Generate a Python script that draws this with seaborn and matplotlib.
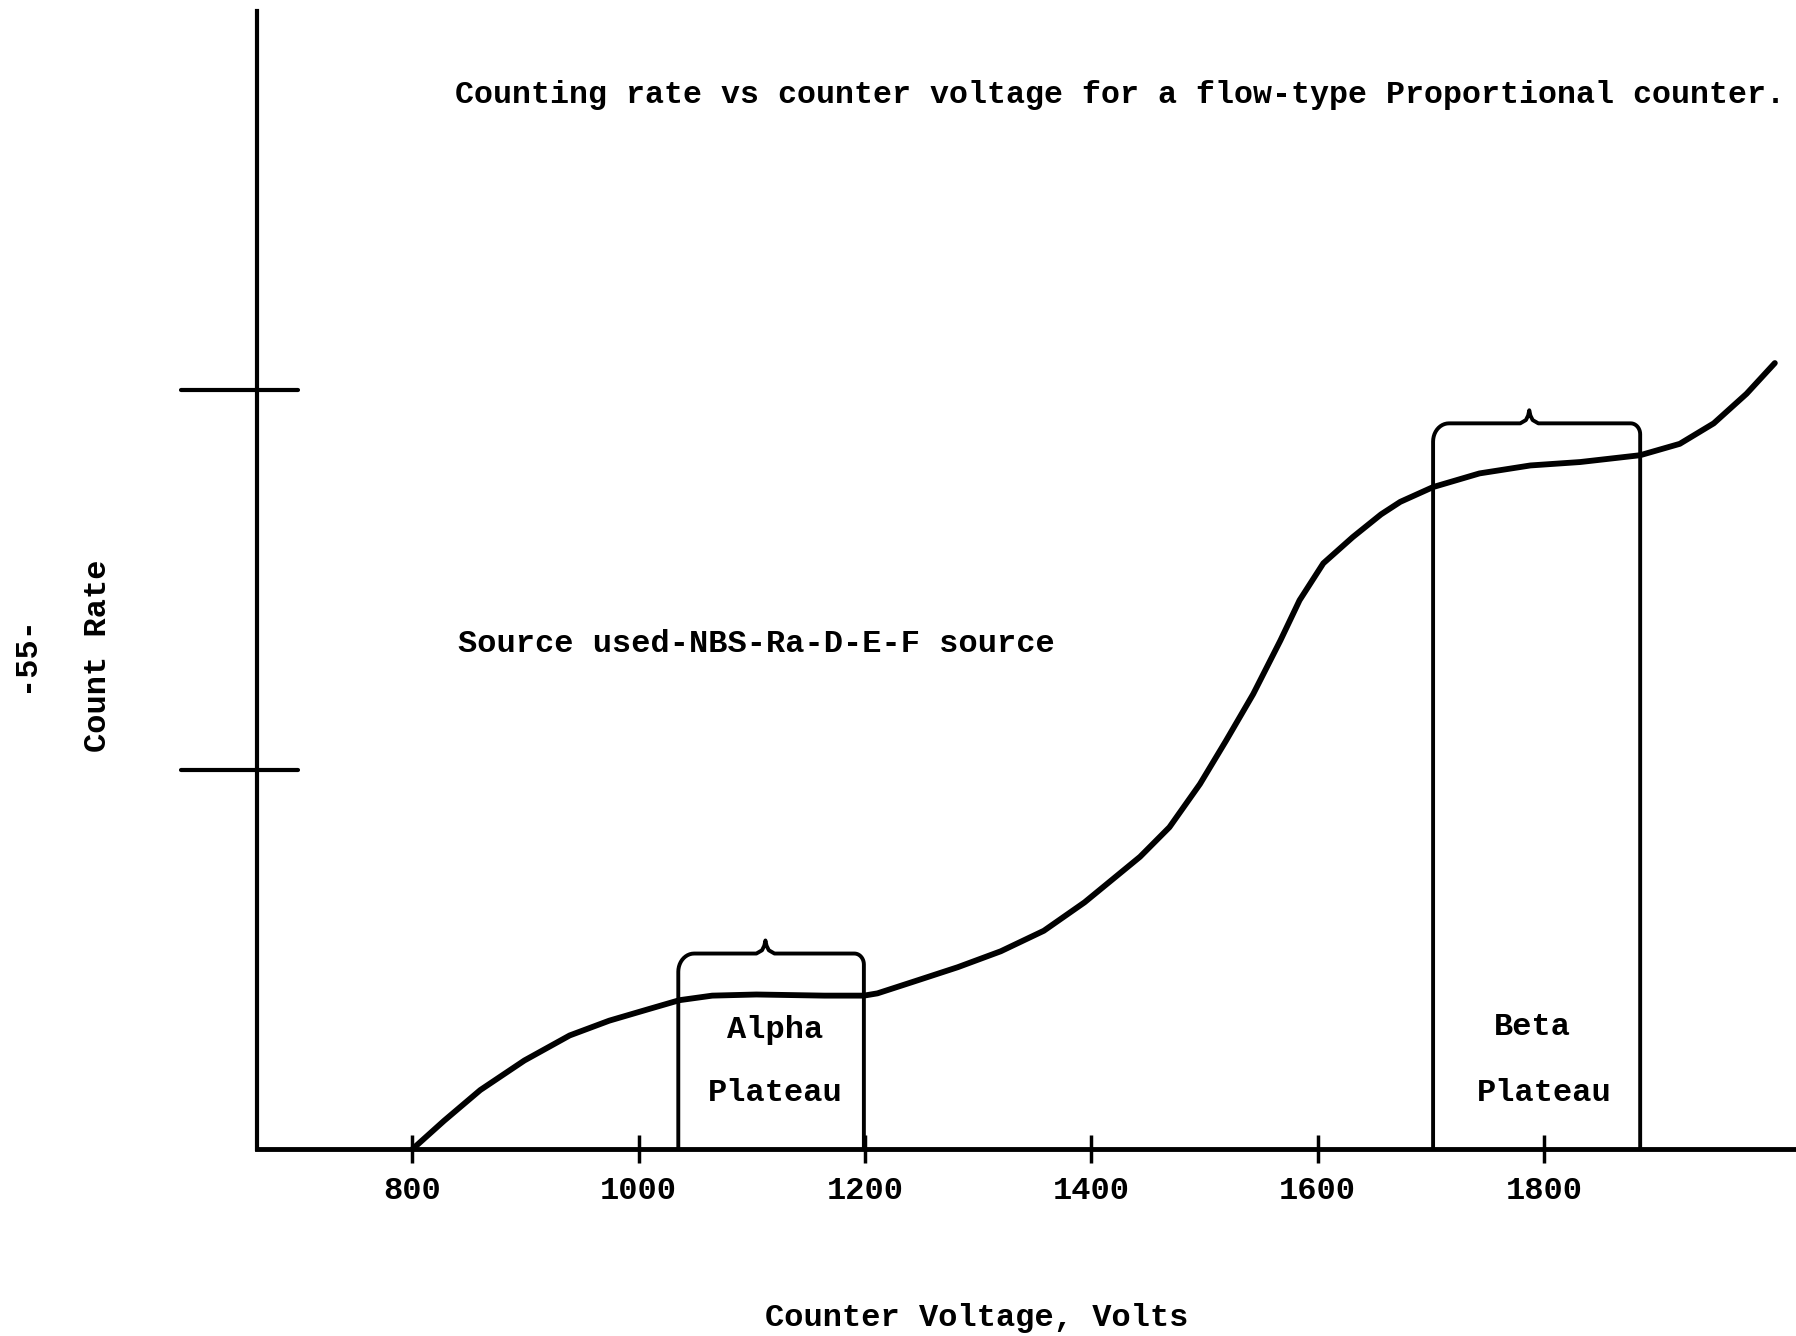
import numpy as np
import pandas as pd
import seaborn as sns
from matplotlib import pyplot as plt

# Curve (volts, relative count rate)
voltage = [800, 828, 860, 899, 939, 974, 1010, 1036, 1065, 1104, 1164, 1199,
           1211, 1242, 1282, 1320, 1358, 1394, 1443, 1469, 1496, 1519, 1543,
           1567, 1584, 1605, 1631, 1656, 1673, 1702, 1743, 1788, 1832, 1885,
           1920, 1950, 1979, 2004]
count_rate = [0.0, 2.5, 5.2, 7.8, 10.0, 11.3, 12.35, 13.1, 13.5, 13.6, 13.5, 13.5,
              13.7, 14.7, 16.0, 17.4, 19.2, 21.7, 25.7, 28.3, 32.1, 35.9, 40.0,
              44.7, 48.25, 51.5, 53.8, 55.8, 56.9, 58.2, 59.4, 60.1, 60.4, 61.0,
              62.0, 63.8, 66.4, 69.1]

x_ticks = [800, 1000, 1200, 1400, 1600, 1800]
y_marks = [33.3, 66.7]

# Plateau brackets: low volt, high volt, bracket height, brace point
plateau_names = ["Alpha", "Beta"]
plateau_lo = [1035, 1702]
plateau_hi = [1199, 1885]
plateau_top = [17.2, 63.8]
plateau_peak = [1112, 1787]

FONT = ["Liberation Mono", "DejaVu Sans Mono"]
FS = 23


def bracket_path(lo, hi, top, mid, rx=14.0, ry=1.6, bump=1.15, bw=8.0):
    """Open box with rounded upper corners and a little brace point."""
    t = np.linspace(0, np.pi / 2, 12)
    xs = [lo]
    ys = [0.0]
    xs += list(lo + rx * (1 - np.cos(t)))
    ys += list(top - ry + ry * np.sin(t))
    xs += [mid - bw, mid - 3, mid - 1, mid, mid + 1, mid + 3, mid + bw]
    ys += [top, top + bump * 0.25, top + bump * 0.6, top + bump,
           top + bump * 0.6, top + bump * 0.25, top]
    xs += list(hi - rx * 0.6 * (1 - np.cos(t[::-1])))
    ys += list(top - ry * 0.6 + ry * 0.6 * np.sin(t[::-1]))
    xs += [hi]
    ys += [0.0]
    return np.array(xs), np.array(ys)


sns.set_theme(style="white")
plt.rcParams["font.family"] = FONT
plt.rcParams["font.weight"] = "bold"
plt.rcParams["axes.labelweight"] = "bold"

fig = plt.figure(figsize=(17.96, 13.36), dpi=100)
ax = fig.add_axes([0.1429, 0.1398, 0.8571, 0.8516])

df = pd.DataFrame({"voltage": voltage, "count_rate": count_rate})
sns.lineplot(data=df, x="voltage", y="count_rate", ax=ax, color="black",
             linewidth=4.2, solid_capstyle="round", solid_joinstyle="round")

for lo, hi, top, mid in zip(plateau_lo, plateau_hi, plateau_top, plateau_peak):
    bx, by = bracket_path(lo, hi, top, mid)
    ax.plot(bx, by, color="black", linewidth=2.8, solid_joinstyle="round")

ax.set_xlim(662.4, 2022.7)
ax.set_ylim(0, 100)

for side in ["top", "right"]:
    ax.spines[side].set_visible(False)
ax.spines["left"].set_linewidth(3.0)
ax.spines["bottom"].set_linewidth(3.5)
ax.spines["left"].set_color("black")
ax.spines["bottom"].set_color("black")

ax.set_xticks(x_ticks)
ax.set_xticklabels([str(v) for v in x_ticks])
ax.tick_params(axis="x", direction="inout", length=20, width=2.5, pad=9,
               labelsize=FS, colors="black", bottom=True)
ax.set_yticks([])

# long unlabeled marks across the count-rate axis
for y in y_marks:
    ax.axhline(y, xmin=-0.049, xmax=0.027, color="black", linewidth=3.0,
               clip_on=False)

ax.set_xlabel("Counter Voltage, Volts", fontsize=FS, color="black",
              va="center", fontweight="bold")
ax.xaxis.set_label_coords(0.468, -0.148)
ax.set_ylabel("Count Rate", fontsize=FS, color="black", va="center",
              fontweight="bold")
ax.yaxis.set_label_coords(-0.103, 0.434)

label_x = [1121, 1790]
label_x2 = [1121, 1800]
label_y1 = [10.5, 10.7]
for name, lx, ly, lx2 in zip(plateau_names, label_x, label_y1, label_x2):
    ax.text(lx, ly, name, ha="center", va="center", fontsize=FS, color="black")
    ax.text(lx2, 4.9, "Plateau", ha="center", va="center", fontsize=FS,
            color="black")

fig.text(0.2532, 0.9288,
         "Counting rate vs counter voltage for a flow-type Proportional counter.",
         ha="left", va="center", fontsize=22.8, color="black")
fig.text(0.2551, 0.518, "Source used-NBS-Ra-D-E-F source",
         ha="left", va="center", fontsize=FS, color="black")
fig.text(0.014, 0.511, "-55-", rotation=90, ha="center", va="center",
         fontsize=FS, color="black")

fig.savefig("out.png", dpi=100, facecolor="white")
